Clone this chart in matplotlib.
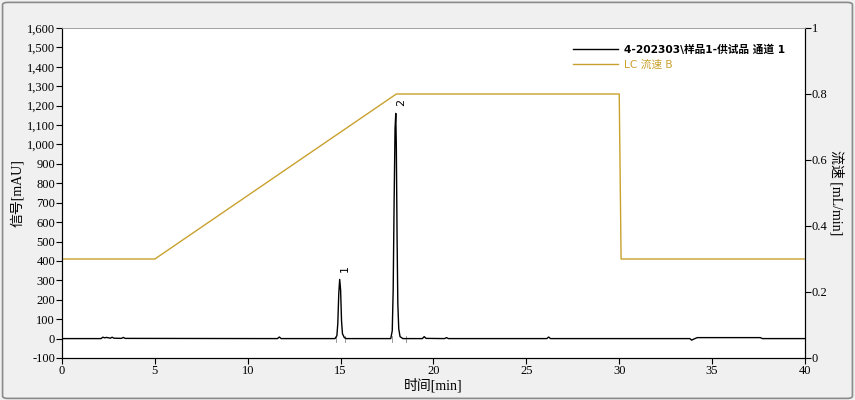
import matplotlib.pyplot as plt
from matplotlib.patches import FancyBboxPatch
from matplotlib.ticker import FuncFormatter, MultipleLocator

plt.rcParams['font.family'] = ['Liberation Serif', 'Noto Sans CJK SC', 'DejaVu Sans']

# 色谱信号 (时间 min, 信号 mAU)
sig_t = [0, 2.1, 2.2, 2.3, 2.4, 2.6, 2.7, 2.8, 3.2, 3.3, 3.4, 11.6, 11.7, 11.8,
         14.7, 14.8, 14.85, 14.9, 14.95, 15.0, 15.05, 15.1, 15.2, 15.3,
         17.7, 17.78, 17.83, 17.88, 17.93, 17.97, 18.0, 18.04, 18.08, 18.13, 18.2, 18.35,
         19.4, 19.5, 19.6, 20.6, 20.7, 20.8, 26.1, 26.2, 26.3,
         33.8, 33.9, 34.0, 34.2, 37.6, 37.7, 40]
sig_v = [0, 0, 7, 4, 6, 2, 7, 2, 1, 6, 1, 0, 8, 0,
         0, 15, 80, 230, 305, 250, 90, 25, 5, 0,
         0, 40, 250, 700, 1080, 1160, 980, 520, 180, 50, 10, 0,
         0, 10, 1, 0, 5, 0, 0, 8, 0,
         0, -8, -3, 5, 5, 0, 0]

# LC 流速 B (时间 min, mL/min)
flow_t = [0, 5, 18, 30, 30.1, 40]
flow_v = [0.3, 0.3, 0.8, 0.8, 0.3, 0.3]

peak_t = [14.95, 17.97]
peak_h = [305, 1160]
peak_lbl = ['1', '2']
mark_t = [14.75, 15.25, 17.75, 18.5]

gold = '#c9a12e'

fig = plt.figure(figsize=(8.55, 4.0), dpi=100, facecolor='#f0f0f0')
fig.patches.append(FancyBboxPatch((0.003, 0.004), 0.994, 0.99, boxstyle='round,pad=0,rounding_size=0.006',
                                  transform=fig.transFigure, facecolor='none',
                                  edgecolor='#8a8a8a', lw=1.2))
ax = fig.add_axes([0.0725, 0.105, 0.869, 0.825])
ax.set_facecolor('white')
ax2 = ax.twinx()

ax.plot(sig_t, sig_v, color='black', lw=1.0, zorder=3,
        label='4-202303\\样品1-供试品 通道 1')
ax2.plot(flow_t, flow_v, color=gold, lw=1.0, label='LC 流速 B')

for t in mark_t:
    ax.plot([t, t], [-15, 15], color='#888888', lw=0.6)
for t, h, s in zip(peak_t, peak_h, peak_lbl):
    ax.text(t + 0.3, h + 40, s, rotation=90, fontsize=8, ha='center', va='bottom',
            family='DejaVu Sans')

ax.set_xlim(0, 40)
ax.set_ylim(-100, 1600)
ax2.set_ylim(0, 1)
ax.xaxis.set_major_locator(MultipleLocator(5))
ax.yaxis.set_major_locator(MultipleLocator(100))
ax2.yaxis.set_major_locator(MultipleLocator(0.2))
ax.yaxis.set_major_formatter(FuncFormatter(lambda v, p: f'{int(v):,}'))
ax2.yaxis.set_major_formatter(FuncFormatter(lambda v, p: f'{v:g}'))

for a in (ax, ax2):
    a.tick_params(labelsize=9, length=4, width=0.8, pad=1, colors='black')
    a.spines['top'].set_color('#a0a0a0')
    a.spines['top'].set_linewidth(0.6)

ax.set_xlabel('时间[min]', fontsize=10, labelpad=1)
ax.set_ylabel('信号[mAU]', fontsize=10, labelpad=2)
ax2.set_ylabel('流速 [mL/min]', fontsize=10, rotation=-90, labelpad=12)

h1, l1 = ax.get_legend_handles_labels()
h2, l2 = ax2.get_legend_handles_labels()
leg = ax2.legend(h1 + h2, l1 + l2, loc='upper left', bbox_to_anchor=(0.675, 0.98),
                 frameon=False, handlelength=4.2, handletextpad=0.6, labelspacing=0.45,
                 prop={'family': ['DejaVu Sans', 'Noto Sans CJK SC'], 'size': 7.7})
leg.get_texts()[0].set_fontweight('bold')
leg.get_texts()[1].set_color(gold)

fig.savefig('out.png', dpi=100, facecolor=fig.get_facecolor())
